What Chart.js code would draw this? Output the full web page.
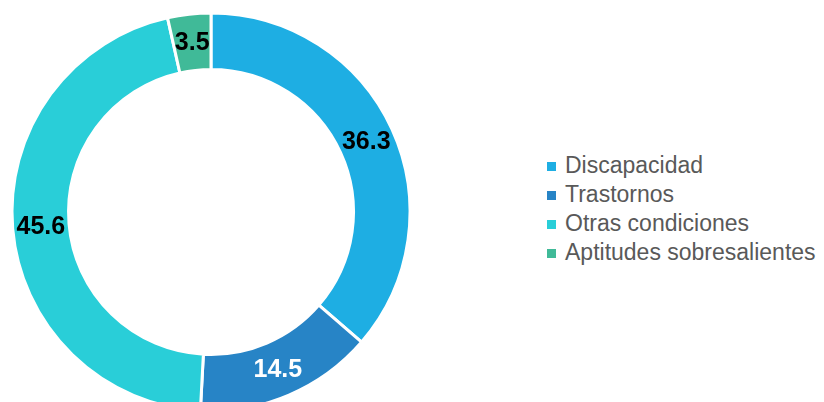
<!DOCTYPE html>
<html>
<head>
<meta charset="utf-8">
<script src="https://cdn.jsdelivr.net/npm/chart.js@4/dist/chart.umd.min.js"></script>
<style>
  html, body { margin: 0; padding: 0; background: #fff; overflow: hidden; }
  body { width: 824px; height: 402px; position: relative; font-family: "Liberation Sans", Arial, sans-serif; }
  #chart-wrap { position: absolute; left: 0; top: 0; width: 422px; height: 424px; }
  #legend { position: absolute; left: 547px; top: 151px; margin: 0; padding: 0; list-style: none; }
  #legend li { height: 29px; line-height: 29px; font-size: 23px; color: #595959; white-space: nowrap; }
  #legend .swatch { display: inline-block; width: 9px; height: 9px; margin-right: 9px; vertical-align: 2px; }
</style>
</head>
<body>
<div id="chart-wrap"><canvas id="donut"></canvas></div>
<ul id="legend"></ul>
<script>
// Shares per category (percent)
const categories = ["Discapacidad", "Trastornos", "Otras condiciones", "Aptitudes sobresalientes"];
const shares = [36.3, 14.5, 45.6, 3.5];
const sliceColors = ["#1eaee3", "#2784c6", "#29ced8", "#40ba98"];
const labelColors = ["#000000", "#ffffff", "#000000", "#000000"];

// Draw each value in the middle of its ring segment
const valueLabels = {
  id: "valueLabels",
  afterDatasetsDraw(chart) {
    const ctx = chart.ctx;
    const meta = chart.getDatasetMeta(0);
    ctx.save();
    ctx.font = "bold 25px 'Liberation Sans', Arial, sans-serif";
    ctx.textAlign = "center";
    ctx.textBaseline = "middle";
    meta.data.forEach((arc, i) => {
      const pos = arc.tooltipPosition();
      ctx.fillStyle = labelColors[i];
      ctx.fillText(shares[i].toFixed(1), pos.x, pos.y + 1);
    });
    ctx.restore();
  },
};

new Chart(document.getElementById("donut"), {
  type: "doughnut",
  data: {
    labels: categories,
    datasets: [
      {
        data: shares,
        backgroundColor: sliceColors,
        borderColor: "#ffffff",
        borderWidth: 3,
        radius: 199,
        cutout: 150,
      },
    ],
  },
  options: {
    responsive: true,
    maintainAspectRatio: false,
    animation: false,
    events: [],
    plugins: {
      legend: { display: false },
      tooltip: { enabled: false },
    },
  },
  plugins: [valueLabels],
});

// Legend list
const legend = document.getElementById("legend");
categories.forEach((name, i) => {
  const li = document.createElement("li");
  const swatch = document.createElement("span");
  swatch.className = "swatch";
  swatch.style.background = sliceColors[i];
  li.appendChild(swatch);
  li.appendChild(document.createTextNode(name));
  legend.appendChild(li);
});
</script>
</body>
</html>
